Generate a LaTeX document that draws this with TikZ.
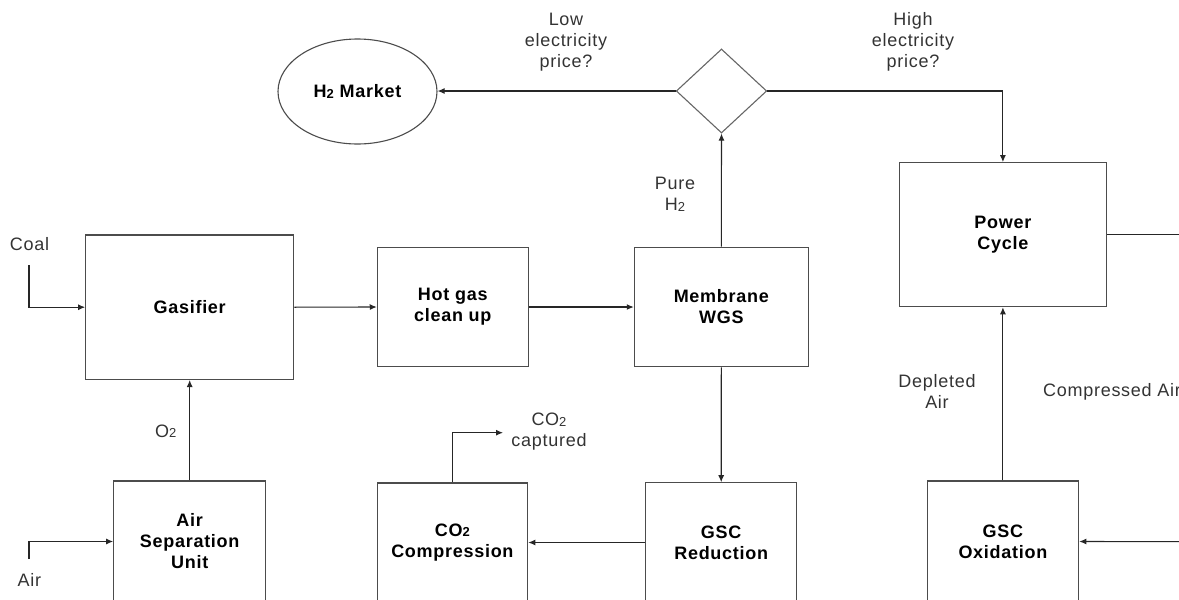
\documentclass[tikz,border=0pt]{standalone}
\usepackage{fontspec}
\setmainfont{Liberation Sans}[LetterSpace=4]
\usetikzlibrary{shapes.geometric,arrows.meta}
\newcommand{\lotwo}{\raisebox{-0.5pt}{\fontsize{13}{13}\selectfont 2}}
\begin{document}
\begin{tikzpicture}[x=1pt,y=-1pt,
  every node/.style={font=\fontsize{18}{21}\selectfont},
  box/.style={draw=black!70,line width=1.1pt,rectangle,inner sep=0pt,align=center,font=\fontsize{18}{21}\selectfont\bfseries},
  lbl/.style={align=center,text=black!80,inner sep=0pt},
  flow/.style={draw=black!85,line width=1.1pt,-{Latex[length=7pt,width=6pt]}},
  plain/.style={draw=black!85,line width=1.1pt}]
\useasboundingbox (0,0) rectangle (1179,600);
\clip (0,0) rectangle (1179,600);
% nodes
\node[draw=black!70,line width=1.1pt,ellipse,minimum width=159pt,minimum height=105pt,inner sep=0pt,font=\fontsize{18}{21}\selectfont\bfseries] (market) at (357.5,91.5) {H\lotwo\ Market};
\node[draw=black!60,line width=1.1pt,diamond,minimum width=90.5pt,minimum height=84pt,inner sep=0pt] (dec) at (721.5,91) {};
\node[box,minimum width=208pt,minimum height=144.5pt] (gasifier) at (189.7,307.2) {Gasifier};
\node[box,minimum width=151pt,minimum height=119.5pt] (hotgas) at (452.8,307) {Hot gas\\clean up};
\node[box,minimum width=174pt,minimum height=119.5pt] (membrane) at (721.3,307) {Membrane\\WGS};
\node[box,minimum width=207.7pt,minimum height=144pt] (power) at (1002.9,234.7) {Power\\Cycle};
\node[box,minimum width=152pt,minimum height=121pt] (asu) at (189.7,541.5) {Air\\Separation\\Unit};
\node[box,minimum width=150.7pt,minimum height=119pt] (compr) at (452.4,542.5) {CO\lotwo\\Compression};
\node[box,minimum width=151pt,minimum height=119.5pt] (reduc) at (721.2,542.5) {GSC\\Reduction};
\node[box,minimum width=151.7pt,minimum height=121pt] (oxid) at (1002.9,541.5) {GSC\\Oxidation};
% labels
\node[lbl] (lcoal) at (29.5,244) {Coal};
\node[lbl] (lair) at (29.3,580) {Air};
\node[lbl] (lo2) at (165.7,431) {O\lotwo};
\node[lbl] (lco2) at (549,432) {CO\lotwo\\captured};
\node[lbl] (ldep) at (937,391) {Depleted\\Air};
\node[lbl,anchor=west] (lcomp) at (1043,391.7) {Compressed Air};
\node[lbl] (llow) at (566,41.7) {Low\\electricity\\price?};
\node[lbl] (lhigh) at (913,41.7) {High\\electricity\\price?};
\node[lbl] (lpure) at (675,194.5) {Pure\\H\lotwo};
% free ends
\coordinate (coalin) at (29,265);
\coordinate (airin) at (29,559);
\coordinate (co2out) at (503,432.7);
\coordinate (pout) at (1195,234.7);
\coordinate (oin) at (1195,541.7);
% connectors
\draw[flow] (dec.west) -- (dec.west -| market.east);
\draw[flow] (dec.east) -| (power.north);
\draw[flow] (membrane.north) -- (dec.south);
\draw[flow] (coalin) |- (gasifier.west);
\draw[flow] (gasifier.east) -- (hotgas.west);
\draw[flow] (hotgas.east) -- (membrane.west);
\draw[flow] (asu.north) -- (gasifier.south);
\draw[flow] (airin) |- (asu.west);
\draw[flow] (membrane.south) -- (reduc.north);
\draw[flow] (reduc.west) -- (compr.east);
\draw[flow] (compr.north) |- (co2out);
\draw[flow] (oxid.north) -- (power.south);
\draw[plain] (power.east) -- (pout);
\draw[flow] (oin) -- (oxid.east);
\end{tikzpicture}
\end{document}
